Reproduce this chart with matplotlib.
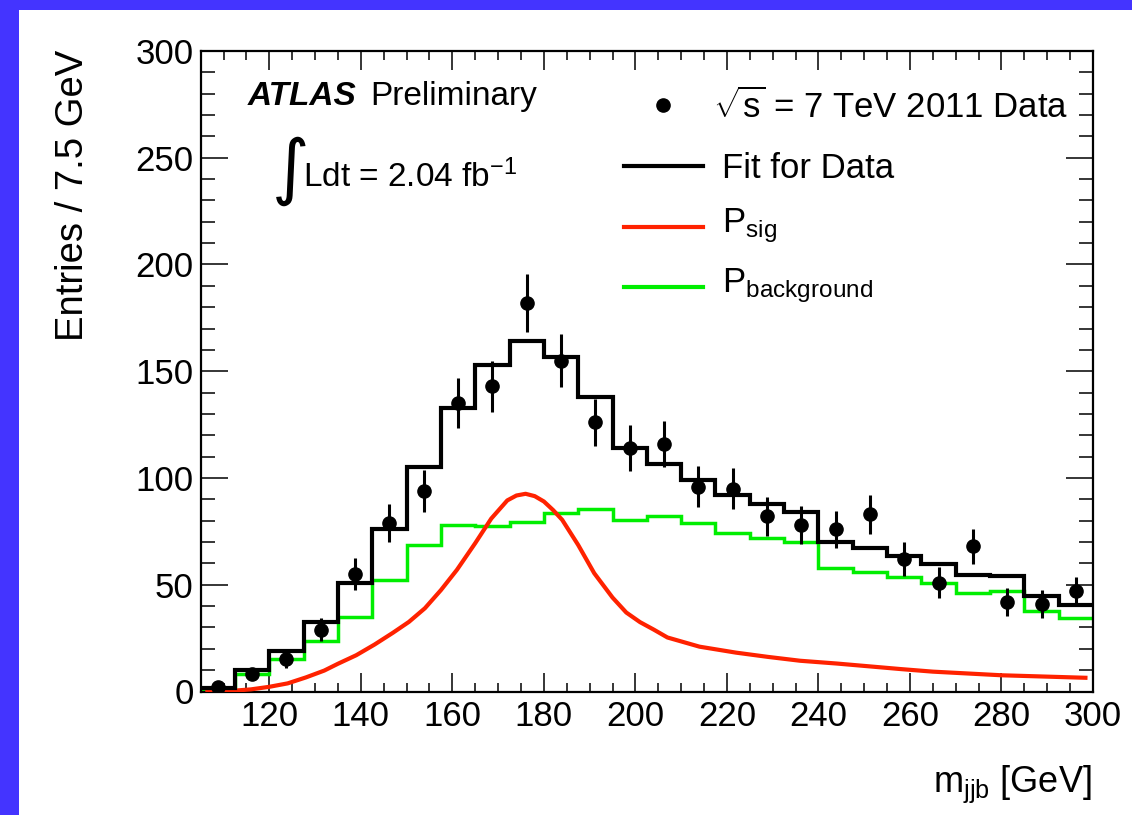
import numpy as np
import matplotlib
matplotlib.use("Agg")
import matplotlib.pyplot as plt
from matplotlib.ticker import MultipleLocator
from matplotlib.patches import Rectangle
from matplotlib.lines import Line2D

plt.rcParams['font.family'] = ['Liberation Sans', 'DejaVu Sans']
plt.rcParams['mathtext.fontset'] = 'custom'
plt.rcParams['mathtext.rm'] = 'Liberation Sans'
plt.rcParams['mathtext.it'] = 'Liberation Sans:italic'
plt.rcParams['mathtext.bf'] = 'Liberation Sans:bold'

# ---------------- data ----------------
bin_edges = [105.0, 112.5, 120.0, 127.5, 135.0, 142.5, 150.0, 157.5, 165.0, 172.5,
             180.0, 187.5, 195.0, 202.5, 210.0, 217.5, 225.0, 232.5, 240.0, 247.5,
             255.0, 262.5, 270.0, 277.5, 285.0, 292.5, 300.0]
data_counts = [2, 8, 15, 29, 55, 79, 94, 135, 143, 182, 155, 126, 114, 116, 96,
               95, 82, 78, 76, 83, 62, 51, 68, 42, 41, 47]
fit_total = [1.5, 10.1, 19.1, 32.4, 51.0, 76.0, 105.1, 132.6, 152.9, 164.0, 156.8,
             137.8, 114.0, 106.6, 99.2, 92.1, 87.9, 84.0, 69.9, 67.1, 63.5, 59.8,
             54.6, 54.1, 44.9, 40.5]
fit_bkg = [1.0, 8.2, 15.1, 23.7, 34.8, 52.0, 68.6, 78.1, 77.3, 79.6, 83.6, 85.4,
           80.4, 82.3, 79.1, 74.2, 71.8, 69.8, 58.0, 56.1, 53.5, 50.7, 46.0, 47.1,
           37.7, 34.3]
sig_x = [106, 113, 116, 120, 124, 128, 132, 135, 139, 143, 147, 150.5, 154, 157.5,
         161, 165, 168.5, 172, 174, 176, 178, 180, 182, 184, 187.5, 191, 195, 198,
         201, 204, 207, 214, 222, 229, 236, 244, 251, 258, 265, 280, 298.8]
sig_y = [0.0, 0.5, 1.0, 2.2, 3.8, 6.6, 9.8, 13.0, 17.0, 22.0, 27.5, 32.6, 39.0, 47.5,
         57.0, 69.5, 81.0, 89.5, 91.8, 92.6, 91.5, 89.0, 85.0, 80.4, 68.6, 55.4, 44.0,
         37.0, 32.5, 29.0, 25.3, 21.0, 18.2, 16.2, 14.4, 13.1, 11.8, 10.5, 9.3, 7.6, 6.4]

xticks_major = [120, 140, 160, 180, 200, 220, 240, 260, 280, 300]
yticks_major = [0, 50, 100, 150, 200, 250, 300]

# ---------------- figure ----------------
W, H = 1132, 815
fig = plt.figure(figsize=(W / 100, H / 100), dpi=100)
fig.patch.set_facecolor('#4434ff')
fig.patches.append(Rectangle((19 / W, 0), 1 - 19 / W, 1 - 10 / H,
                             transform=fig.transFigure, facecolor='white',
                             edgecolor='none', zorder=-10))

def fx(px):
    return px / W

def fy(py):
    return 1 - py / H

ax_l, ax_r, ax_t, ax_b = 200.7, 1093, 51, 691.5
ax = fig.add_axes([fx(ax_l), fy(ax_b), (ax_r - ax_l) / W, (ax_b - ax_t) / H])
ax.set_zorder(1)
ax.set_facecolor('white')

edges = np.array(bin_edges)
centers = 0.5 * (edges[:-1] + edges[1:])
counts = np.array(data_counts, dtype=float)

ax.stairs(fit_bkg, edges, baseline=None, color='#00ee00', lw=2.5, zorder=2)
ax.plot(sig_x, sig_y, color='#ff2200', lw=3.0, zorder=3, solid_capstyle='butt',
        solid_joinstyle='round')
ax.stairs(fit_total, edges, baseline=None, color='black', lw=3.0, zorder=4)
ax.errorbar(centers, counts, yerr=np.sqrt(counts), fmt='o', color='black',
            ms=9.5, elinewidth=2.2, capsize=0, zorder=5)

ax.set_xlim(105, 300)
ax.set_ylim(0, 300)
ax.set_xticks(xticks_major)
ax.set_yticks(yticks_major)
ax.xaxis.set_minor_locator(MultipleLocator(5))
ax.yaxis.set_minor_locator(MultipleLocator(10))
ax.tick_params(axis='x', which='major', direction='in', length=13.7, width=1.1,
               top=True, bottom=True, labelsize=25, pad=6)
ax.tick_params(axis='x', which='minor', direction='in', length=6.8, width=1.1,
               top=True, bottom=True)
ax.tick_params(axis='y', which='major', direction='in', length=19.4, width=1.1,
               left=True, right=True, labelsize=25, pad=5)
ax.tick_params(axis='y', which='minor', direction='in', length=10, width=1.1,
               left=True, right=True)
for s in ax.spines.values():
    s.set_linewidth(1.6)

# axis labels
fig.text(fx(1092), fy(792), r'm$_{\mathrm{jjb}}$ [GeV]', ha='right', va='baseline',
         fontsize=26, zorder=3)
fig.text(fx(73), fy(50), 'Entries / 7.5 GeV', rotation=90, ha='center', va='top',
         fontsize=27.5, zorder=3)

# ATLAS label
fig.text(fx(248), fy(105), 'ATLAS', fontsize=24, fontweight='bold', fontstyle='italic',
         ha='left', va='baseline', zorder=3)
fig.text(fx(370), fy(105), 'Preliminary', fontsize=24, ha='left', va='baseline', zorder=3)
fig.text(fx(291), fy(171), '\u222b', fontsize=52, ha='center', va='center',
         family=['DejaVu Sans'], zorder=3)
fig.text(fx(303), fy(187), r'Ldt = 2.04 fb$^{\mathrm{-1}}$', fontsize=24, ha='left',
         va='baseline', zorder=3)

# legend (manual)
fig.add_artist(Line2D([fx(663)], [fy(105)], marker='o', color='black', ms=9.5,
                      linestyle='none', transform=fig.transFigure, zorder=3))
fig.text(fx(713), fy(118), r'$\sqrt{\mathrm{s}}$ = 7 TeV 2011 Data', fontsize=25,
         ha='left', va='baseline', zorder=3)
leg_items = [(166, 178, 'black', 'Fit for Data'),
             (227, 232, '#ff2200', r'P$_{\mathrm{sig}}$'),
             (287, 292, '#00ee00', r'P$_{\mathrm{background}}$')]
for ly, tb, col, lab in leg_items:
    fig.add_artist(Line2D([fx(624), fx(703)], [fy(ly), fy(ly)], color=col, lw=3.0,
                          transform=fig.transFigure, zorder=3))
    fig.text(fx(722), fy(tb), lab, fontsize=25, ha='left', va='baseline', zorder=3)

fig.savefig('out.png', dpi=100, facecolor=fig.get_facecolor())
